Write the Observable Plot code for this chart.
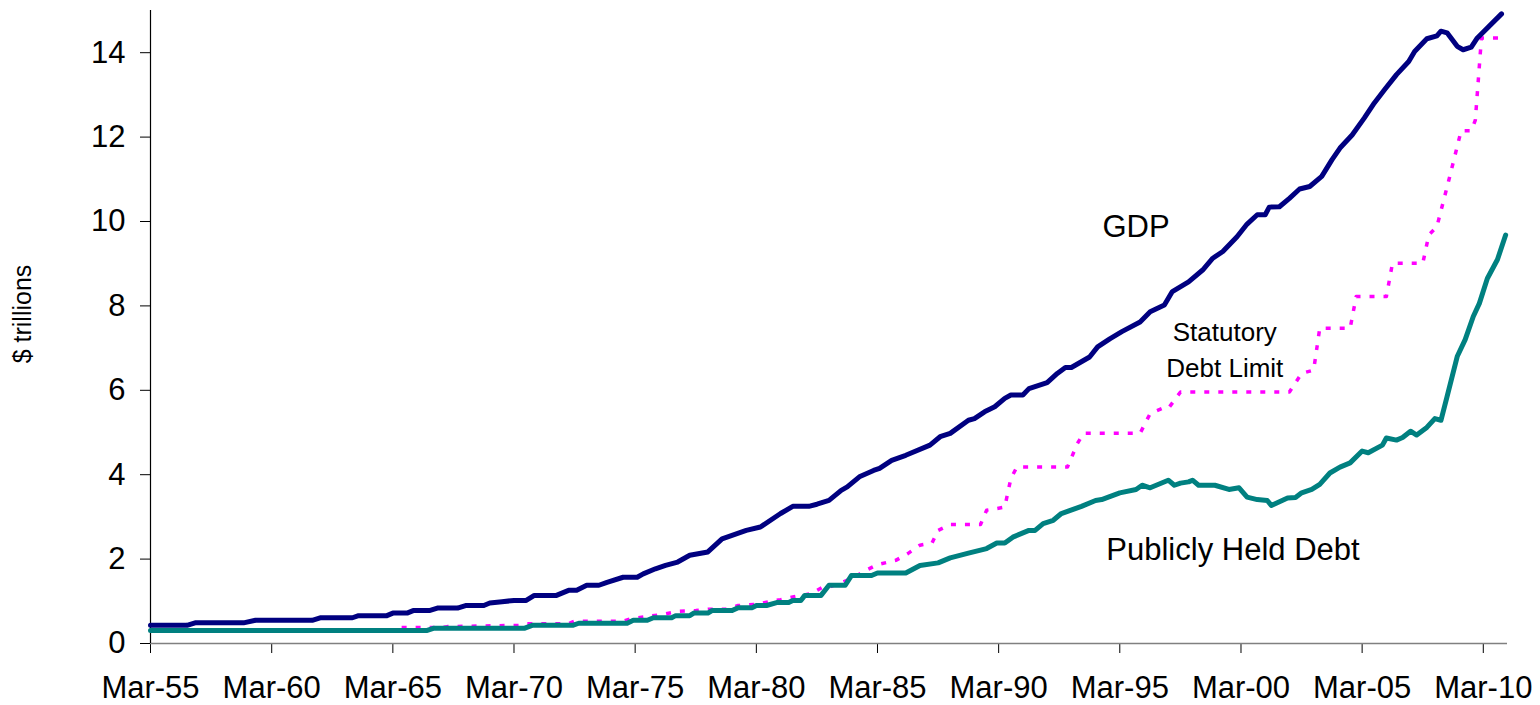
<!DOCTYPE html>
<html>
<head>
<meta charset="utf-8">
<script src="https://cdn.jsdelivr.net/npm/d3@7"></script>
<script src="https://cdn.jsdelivr.net/npm/@observablehq/plot@0.6"></script>
<style>
  html, body { margin: 0; padding: 0; background: #ffffff; }
  #chart { width: 1540px; height: 705px; }
</style>
</head>
<body>
<div id="chart"></div>
<script>
// ---- Data ($ trillions) ----
const gdpDates = ["1955-03","1956-09","1957-01","1959-01","1959-07","1961-11","1962-03","1963-07","1963-10","1964-12",
  "1965-03","1965-10","1966-01","1966-09","1967-01","1967-11","1968-03","1968-12","1969-03","1969-09",
  "1970-03","1970-09","1971-01","1971-12","1972-06","1972-10","1973-03","1973-09","1974-01","1974-09",
  "1975-04","1975-07","1976-01","1976-06","1976-12","1977-06","1978-03","1978-10","1979-10","1980-05",
  "1981-03","1981-09","1982-05","1982-09","1983-03","1983-09","1983-12","1984-06","1985-01","1985-04",
  "1985-10","1986-05","1987-05","1987-10","1988-03","1988-12","1989-03","1989-08","1990-01","1990-06",
  "1990-09","1991-03","1991-06","1992-03","1992-08","1992-12","1993-03","1993-12","1994-04","1994-10",
  "1995-04","1996-01","1996-06","1997-01","1997-05","1998-01","1998-08","1999-01","1999-06","2000-01",
  "2000-06","2000-11","2001-03","2001-05","2001-10","2002-03","2002-08","2003-01","2003-07","2003-12",
  "2004-04","2004-10","2005-04","2005-09","2006-02","2006-08","2007-02","2007-05","2007-11","2008-04",
  "2008-06","2008-09","2009-02","2009-05","2009-09","2009-12","2010-12"];
const gdpValues = [0.43,0.43,0.49,0.49,0.55,0.55,0.61,0.61,0.66,0.66,
  0.72,0.72,0.78,0.78,0.84,0.84,0.90,0.90,0.96,0.99,
  1.02,1.02,1.14,1.14,1.26,1.26,1.38,1.38,1.45,1.57,
  1.57,1.65,1.77,1.85,1.93,2.09,2.17,2.48,2.68,2.76,
  3.08,3.25,3.25,3.30,3.39,3.63,3.71,3.95,4.10,4.15,
  4.34,4.46,4.70,4.90,4.98,5.29,5.33,5.49,5.61,5.81,
  5.89,5.89,6.04,6.18,6.40,6.54,6.54,6.79,7.03,7.22,
  7.39,7.62,7.86,8.02,8.34,8.57,8.85,9.13,9.29,9.64,
  9.94,10.16,10.16,10.34,10.35,10.55,10.77,10.83,11.07,11.46,
  11.74,12.05,12.45,12.81,13.12,13.48,13.79,14.03,14.33,14.40,
  14.51,14.47,14.15,14.07,14.13,14.35,14.92];

const debtDates = ["1955-03","1966-08","1966-11","1970-08","1970-12","1972-08","1972-11","1974-11","1975-02","1975-09",
  "1975-12","1976-09","1976-11","1977-06","1977-08","1978-03","1978-05","1979-03","1979-06","1980-01",
  "1980-03","1980-08","1981-01","1981-07","1981-09","1982-01","1982-03","1982-11","1983-03","1983-11",
  "1984-02","1984-12","1985-03","1986-05","1986-12","1987-09","1988-03","1988-12","1989-09","1990-02",
  "1990-06","1990-10","1991-06","1991-09","1992-01","1992-06","1992-10","1993-08","1994-03","1994-06",
  "1995-03","1995-11","1996-02","1996-06","1997-03","1997-06","1997-09","1998-01","1998-03","1998-06",
  "1999-02","1999-09","2000-02","2000-06","2000-11","2001-04","2001-06","2002-02","2002-06","2002-09",
  "2003-02","2003-06","2003-11","2004-04","2004-09","2005-03","2005-06","2006-01","2006-03","2006-08",
  "2006-11","2007-03","2007-06","2007-11","2008-03","2008-06","2008-09","2009-02","2009-06","2009-10",
  "2010-01","2010-05","2010-10","2011-02"];
const debtValues = [0.31,0.31,0.36,0.36,0.43,0.43,0.48,0.48,0.55,0.55,
  0.61,0.61,0.66,0.66,0.72,0.72,0.78,0.78,0.85,0.85,
  0.90,0.90,0.97,0.97,1.02,1.02,1.14,1.14,1.38,1.38,
  1.61,1.61,1.67,1.67,1.85,1.91,2.03,2.14,2.25,2.38,
  2.38,2.52,2.68,2.68,2.84,2.92,3.08,3.25,3.39,3.41,
  3.57,3.65,3.75,3.69,3.87,3.75,3.80,3.83,3.87,3.75,
  3.75,3.65,3.69,3.47,3.41,3.39,3.27,3.45,3.46,3.57,
  3.65,3.77,4.04,4.18,4.28,4.56,4.52,4.70,4.87,4.82,
  4.88,5.03,4.94,5.12,5.33,5.29,5.85,6.80,7.20,7.75,
  8.06,8.65,9.10,9.68];

const limitDates = ["1955-03","1965-03","1965-06","1967-03","1967-06","1970-06","1970-09","1972-06","1972-09","1974-09",
  "1975-01","1975-09","1976-06","1976-12","1977-09","1978-03","1978-12","1979-06","1980-03","1980-09",
  "1981-03","1981-09","1982-06","1982-12","1983-03","1983-09","1984-03","1984-09","1985-03","1985-12",
  "1986-06","1986-12","1987-06","1987-09","1988-03","1989-06","1989-09","1990-06","1990-09","1990-12",
  "1993-01","1993-06","1993-09","1996-01","1996-06","1996-12","1997-03","1997-09","2002-03","2002-09",
  "2003-03","2003-06","2004-09","2004-12","2006-03","2006-06","2007-09","2007-12","2008-04","2008-10",
  "2009-04","2009-09","2009-11","2010-02","2011-01"];
const limitValues = [0.30,0.30,0.38,0.38,0.40,0.43,0.47,0.47,0.53,0.53,
  0.59,0.64,0.70,0.76,0.78,0.81,0.81,0.90,0.93,0.99,
  1.04,1.10,1.18,1.34,1.34,1.44,1.56,1.73,1.87,1.97,
  2.13,2.33,2.38,2.68,2.82,2.82,3.16,3.23,3.91,4.18,
  4.18,4.74,4.98,4.98,5.45,5.57,5.57,5.96,5.96,6.40,
  6.48,7.47,7.47,8.22,8.22,9.01,9.01,9.68,9.88,11.00,
  12.15,12.15,12.40,14.35,14.35];

const xTicks = ["1955-03","1960-03","1965-03","1970-03","1975-03","1980-03","1985-03","1990-03","1995-03","2000-03","2005-03","2010-03"];
const yTicks = [0, 2, 4, 6, 8, 10, 12, 14];
const xDomain = ["1955-03", "2011-03"];
const yDomain = [0, 15];

const seriesLabels = ["GDP", "Publicly Held Debt"];
const seriesLabelDates = ["1995-11", "1999-11"];
const seriesLabelValues = [9.87, 2.21];
const limitLabels = ["Statutory", "Debt Limit"];
const limitLabelDates = ["1999-07", "1999-07"];
const limitLabelValues = [7.36, 6.51];
const yTitle = "$ trillions";

// ---- Build ----
const parse = d3.utcParse("%Y-%m");
const rows = (dates, values) => dates.map((d, i) => ({date: parse(d), value: values[i]}));
const gdp = rows(gdpDates, gdpValues);
const debt = rows(debtDates, debtValues);
const limit = rows(limitDates, limitValues);
const bigLabels = seriesLabels.map((t, i) => ({text: t, date: parse(seriesLabelDates[i]), value: seriesLabelValues[i]}));
const smallLabels = limitLabels.map((t, i) => ({text: t, date: parse(limitLabelDates[i]), value: limitLabelValues[i]}));

const chart = Plot.plot({
  width: 1540,
  height: 705,
  marginLeft: 150,
  marginRight: 33,
  marginTop: 10,
  marginBottom: 62,
  style: {fontFamily: "'Liberation Sans', Arial, sans-serif", fontSize: "31px", color: "#000", background: "#fff"},
  x: {
    type: "utc",
    domain: xDomain.map(parse),
    ticks: xTicks.map(parse),
    tickFormat: d3.utcFormat("%b-%y"),
    tickSize: 10,
    tickPadding: 22,
    label: null
  },
  y: {
    domain: yDomain,
    ticks: yTicks,
    tickSize: 10,
    tickPadding: 15,
    label: null
  },
  marks: [
    Plot.ruleY([0], {stroke: "#808080", strokeWidth: 1.5}),
    Plot.ruleX([parse(xDomain[0])], {stroke: "#000", strokeWidth: 1.2}),
    Plot.line(limit, {x: "date", y: "value", stroke: "#FF00FF", strokeWidth: 3.5, strokeDasharray: "5,9", strokeLinecap: "butt"}),
    Plot.line(debt, {x: "date", y: "value", stroke: "#008080", strokeWidth: 5, strokeLinejoin: "round", strokeLinecap: "round"}),
    Plot.line(gdp, {x: "date", y: "value", stroke: "#000080", strokeWidth: 5, strokeLinejoin: "round", strokeLinecap: "round"}),
    Plot.text(bigLabels, {x: "date", y: "value", text: "text", fontSize: 31, fill: "#000", textAnchor: "middle"}),
    Plot.text(smallLabels, {x: "date", y: "value", text: "text", fontSize: 26, fill: "#000", textAnchor: "middle"}),
    Plot.text([yTitle], {frameAnchor: "left", textAnchor: "middle", dx: -128, dy: -13, rotate: -90, fontSize: 25, fill: "#000"})
  ]
});
document.getElementById("chart").appendChild(chart);
</script>
</body>
</html>
